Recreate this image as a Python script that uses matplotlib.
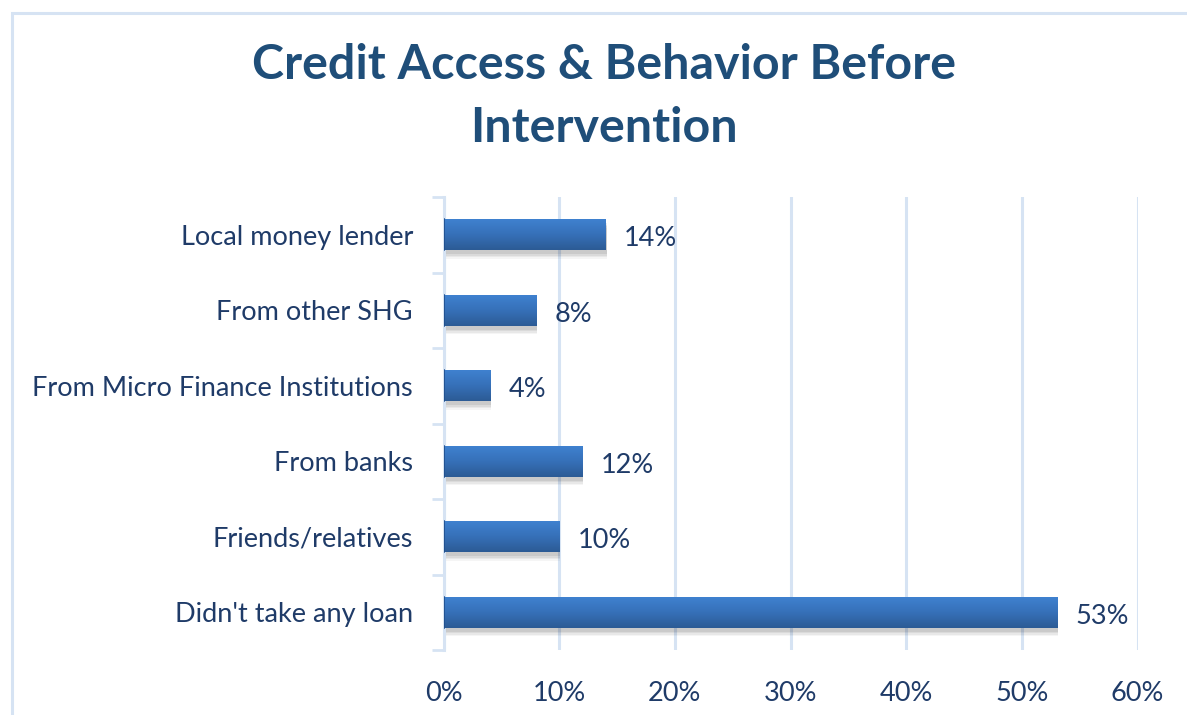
import numpy as np
import matplotlib
matplotlib.use("Agg")
import matplotlib.pyplot as plt
from matplotlib.patches import Rectangle
from matplotlib.colors import LinearSegmentedColormap

categories = [
    "Didn't take any loan",
    "Friends/relatives",
    "From banks",
    "From Micro Finance Institutions",
    "From other SHG",
    "Local money lender",
]
shares = [53, 10, 12, 4, 8, 14]  # percent of respondents
x_ticks = [0, 10, 20, 30, 40, 50, 60]

TITLE_COLOR = "#1F4E79"
TEXT_COLOR = "#1F3B68"
GRID_COLOR = "#D6E3F3"
FS = 19.5

plt.rcParams["font.family"] = ["Lato", "DejaVu Sans"]

fig = plt.figure(figsize=(11.87, 7.15), dpi=100)
fig.patch.set_facecolor("white")

# light frame around the chart area
fig.add_artist(Rectangle((12 / 1187, -0.05), 1.2, 1 - 13 / 715 + 0.05,
                         transform=fig.transFigure, fill=False,
                         edgecolor=GRID_COLOR, linewidth=2.2))

ax = fig.add_axes([443.5 / 1187, 1 - 650 / 715, 694 / 1187, 453 / 715])
y = np.arange(len(categories))
bar_h = 0.41

# soft drop shadow under each bar
for dy, a in [(0.11, 0.04), (0.09, 0.05), (0.07, 0.06), (0.05, 0.07)]:
    ax.barh(y - dy, shares, height=bar_h, left=0.1, color="black",
            alpha=a, linewidth=0, zorder=2)

bars = ax.barh(y, shares, height=bar_h, color="#3670B8", linewidth=0, zorder=3)

# vertical gradient fill clipped to each bar
cmap = LinearSegmentedColormap.from_list("barfill", ["#3F81CF", "#3670B8", "#2C5B95"])
grad = np.linspace(0, 1, 64).reshape(-1, 1)
for b in bars:
    x0, y0 = b.get_x(), b.get_y()
    w, h = b.get_width(), b.get_height()
    im = ax.imshow(grad, cmap=cmap, aspect="auto", origin="upper",
                   extent=[x0, x0 + w, y0, y0 + h], zorder=4)
    im.set_clip_path(b)
    ax.plot([x0 + 0.05, x0 + 0.05], [y0, y0 + h], color="#1F4E8C", lw=1.2, zorder=5)

for yi, v in zip(y, shares):
    ax.text(v + 1.6, yi - 0.05, f"{v}%", va="center", ha="left",
            fontsize=FS, color=TEXT_COLOR, zorder=6)

ax.set_xlim(0, 60)
ax.set_ylim(-0.5, len(categories) - 0.5)
ax.set_xticks(x_ticks)
ax.set_xticklabels([f"{t}%" for t in x_ticks], fontsize=FS, color=TEXT_COLOR)
ax.set_yticks(y)
ax.set_yticklabels(categories, fontsize=FS, color=TEXT_COLOR)
ax.tick_params(axis="y", length=0, pad=22)
ax.tick_params(axis="x", length=0, pad=22)

# category boundary ticks on the left of the axis
ax.set_yticks(np.arange(-0.5, len(categories)), minor=True)
ax.tick_params(axis="y", which="minor", length=9, width=2, color=GRID_COLOR)

ax.grid(axis="x", color=GRID_COLOR, linewidth=2.2, zorder=0)
ax.set_axisbelow(True)
for side in ["top", "right", "bottom"]:
    ax.spines[side].set_visible(False)
ax.spines["left"].set_color(GRID_COLOR)
ax.spines["left"].set_linewidth(2.2)
ax.set_facecolor("none")

title_lines = ["Credit Access & Behavior Before", "Intervention"]
for line, ypix in zip(title_lines, [65, 128]):
    fig.text(604 / 1187, 1 - ypix / 715, line, ha="center", va="center",
             fontsize=34.8, fontweight="bold", color=TITLE_COLOR)

fig.savefig("out.png", dpi=100, facecolor="white")
